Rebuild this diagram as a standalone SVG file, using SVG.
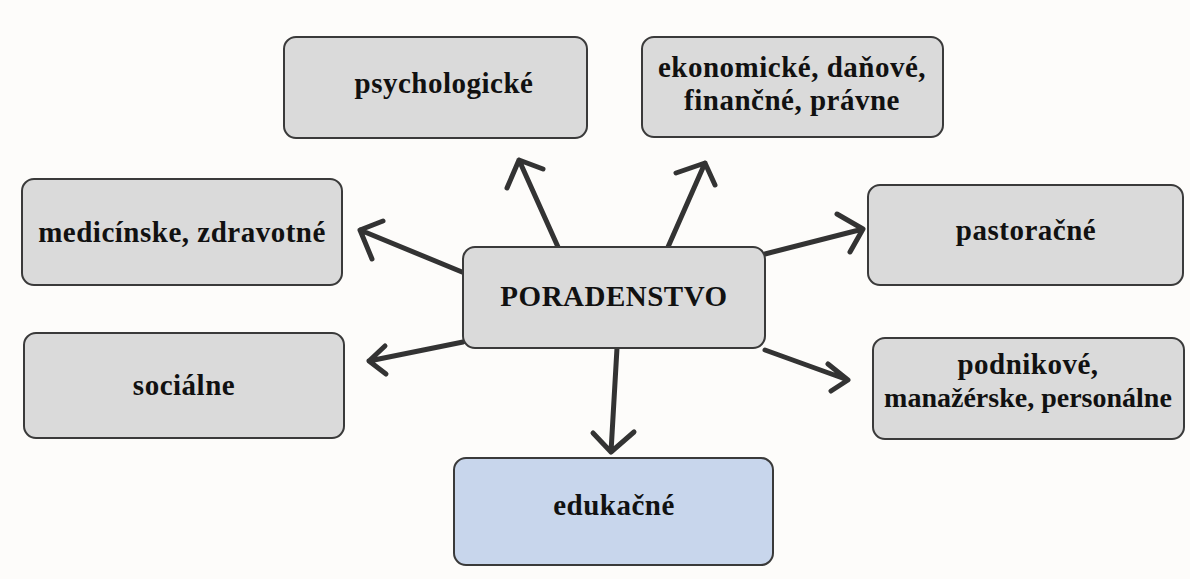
<svg xmlns="http://www.w3.org/2000/svg" width="1190" height="579" viewBox="0 0 1190 579">
<style>
.box{fill:#dadada;stroke:#3a3a3a;stroke-width:2}
.blue{fill:#c8d6ec}
.t{font-family:"Liberation Serif","Times New Roman",serif;font-weight:bold;font-size:29px;letter-spacing:0.5px;fill:#111;text-anchor:middle}
.c{fill:none;stroke:#333;stroke-width:5;stroke-linecap:round;stroke-linejoin:round}
</style>
<rect width="1190" height="579" fill="#fdfcfa"/>
<g id="connectors">
<path class="c" d="M462 272 L360 230 M383 221 L360 230 L372 259"/>
<path class="c" d="M558 247 L519 160 M543 169 L519 160 L507 188"/>
<path class="c" d="M668 247 L705 163 M676 173 L705 163 L715 185"/>
<path class="c" d="M765 254 L863 229 M837 214 L863 229 L850 252"/>
<path class="c" d="M463 342 L369 361 M385 346 L369 361 L386 374"/>
<path class="c" d="M765 350 L848 380 M828 364 L848 380 L831 391"/>
<path class="c" d="M617 348 L611 452 M593 433 L611 452 L634 432"/>
</g>
<g id="psychologicke"><rect class="box" x="284" y="37" width="303" height="101" rx="12"/><text class="t" x="444" y="93">psychologické</text></g>
<g id="ekonomicke"><rect class="box" x="642" y="37" width="301" height="100" rx="12"/><text class="t" x="792" y="77">ekonomické, daňové,</text><text class="t" x="792" y="110">finančné, právne</text></g>
<g id="medicinske"><rect class="box" x="22" y="179" width="320" height="106" rx="12"/><text class="t" x="182" y="242">medicínske, zdravotné</text></g>
<g id="poradenstvo"><rect class="box" x="463" y="247" width="302" height="101" rx="12"/><text class="t" x="614" y="306">PORADENSTVO</text></g>
<g id="pastoracne"><rect class="box" x="868" y="185" width="315" height="100" rx="12"/><text class="t" x="1026" y="240">pastoračné</text></g>
<g id="socialne"><rect class="box" x="24" y="333" width="320" height="105" rx="12"/><text class="t" x="184" y="395">sociálne</text></g>
<g id="podnikove"><rect class="box" x="873" y="338" width="311" height="101" rx="12"/><text class="t" x="1028" y="374">podnikové,</text><text class="t" x="1028" y="407" style="letter-spacing:0px;font-size:28px">manažérske, personálne</text></g>
<g id="edukacne"><rect class="box blue" x="454" y="458" width="319" height="107" rx="12"/><text class="t" x="614" y="515">edukačné</text></g>
</svg>
